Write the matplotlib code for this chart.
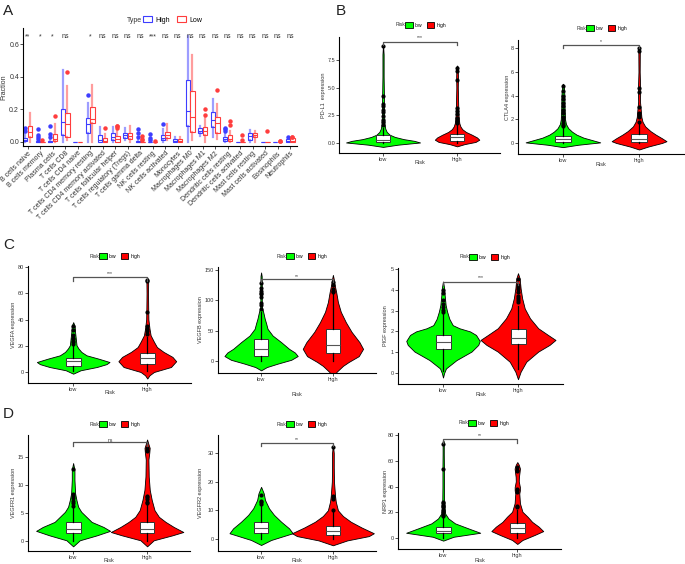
import matplotlib
matplotlib.use('Agg')
import matplotlib.pyplot as plt
from matplotlib.patches import Patch
import numpy as np

plt.rcParams['font.family'] = ['Liberation Sans', 'DejaVu Sans']

# ---------------- Panel A data ----------------
cells = ["B cells naive", "B cells memory", "Plasma cells", "T cells CD8", "T cells CD4 naive",
         "T cells CD4 memory resting", "T cells CD4 memory activated", "T cells follicular helper",
         "T cells regulatory (Tregs)", "T cells gamma delta", "NK cells resting", "NK cells activated",
         "Monocytes", "Macrophages M0", "Macrophages M1", "Macrophages M2", "Dendritic cells resting",
         "Dendritic cells activated", "Mast cells resting", "Mast cells activated", "Eosinophils", "Neutrophils"]
sig_a = ["**", "*", "*", "ns", "", "*", "ns", "ns", "ns", "ns", "***", "ns",
         "ns", "ns", "ns", "ns", "ns", "ns", "ns", "ns", "ns", "ns"]

high_lo = [0, 0, 0, 0, 0, 0, 0, 0, 0.01, 0, 0, 0, 0, 0, 0.035, 0.03, 0, 0, 0, 0, 0, 0]
high_q1 = [0.006, 0, 0, 0.04, 0, 0.053, 0.002, 0.012, 0.022, 0, 0, 0.012, 0.002, 0.098, 0.053, 0.09, 0.006, 0, 0.012, 0, 0, 0.002]
high_med = [0.015, 0, 0.003, 0.12, 0, 0.11, 0.01, 0.03, 0.04, 0, 0, 0.025, 0.008, 0.19, 0.068, 0.133, 0.018, 0, 0.035, 0, 0, 0.005]
high_q3 = [0.027, 0.005, 0.008, 0.205, 0, 0.145, 0.043, 0.057, 0.057, 0.004, 0.002, 0.043, 0.016, 0.38, 0.084, 0.186, 0.033, 0, 0.053, 0, 0, 0.016]
high_hi = [0.05, 0.01, 0.015, 0.44, 0, 0.24, 0.09, 0.09, 0.085, 0.01, 0.005, 0.08, 0.03, 0.65, 0.1, 0.265, 0.05, 0, 0.075, 0, 0.002, 0.02]
high_out = [[0.065, 0.088], [0.02, 0.03, 0.045, 0.08], [0.03, 0.05, 0.095], [], [], [0.29], [], [], [],
            [0.03, 0.055, 0.078], [0.01, 0.025, 0.05], [0.11], [], [], [], [], [0.07, 0.08, 0.085],
            [], [], [], [], [0.032]]

low_lo = [0, 0, 0, 0.01, 0, 0, 0, 0, 0, 0, 0, 0.01, 0, 0.01, 0, 0.02, 0, 0, 0, 0, 0, 0]
low_q1 = [0.033, 0, 0.006, 0.033, 0, 0.114, 0.002, 0.003, 0.016, 0, 0, 0.027, 0.002, 0.063, 0.043, 0.053, 0.006, 0, 0.029, 0, 0, 0]
low_med = [0.063, 0, 0.02, 0.108, 0, 0.14, 0.008, 0.016, 0.035, 0, 0, 0.045, 0.008, 0.155, 0.07, 0.115, 0.02, 0, 0.04, 0, 0, 0.005]
low_q3 = [0.098, 0.003, 0.047, 0.176, 0, 0.216, 0.022, 0.037, 0.057, 0.002, 0.002, 0.063, 0.018, 0.314, 0.094, 0.155, 0.043, 0, 0.057, 0, 0, 0.022]
low_hi = [0.175, 0.006, 0.11, 0.34, 0, 0.35, 0.05, 0.07, 0.1, 0.005, 0.004, 0.11, 0.03, 0.53, 0.15, 0.23, 0.07, 0, 0.07, 0, 0.002, 0.025]
low_out = [[], [0.01], [0.16], [0.43], [], [], [0.085], [0.085, 0.095, 0.1], [], [0.01, 0.02, 0.038],
           [0.008], [], [], [], [0.165, 0.2], [0.32], [0.105, 0.13], [0.01, 0.04], [], [0.068],
           [0.004, 0.006], [0.028, 0.03]]

# ---------------- Violin data (profile y, half-width, box [lo,q1,med,q3,hi], outliers) ----------------
pdl1_low_y = [-0.35, -0.15, 0.05, 0.2, 0.35, 0.55, 0.75, 1.0, 1.3, 1.7, 2.5, 3.5, 4.3, 6.0, 8.0, 8.9]
pdl1_low_w = [0.0, 0.2, 0.5, 0.42, 0.28, 0.16, 0.09, 0.05, 0.03, 0.02, 0.015, 0.014, 0.012, 0.008, 0.008, 0.0]
pdl1_low_box = [0.0, 0.06, 0.3, 0.75, 1.4]
pdl1_low_out = [1.6, 1.9, 2.1, 2.4, 2.8, 3.0, 3.3, 3.5, 4.2, 8.8]
pdl1_high_y = [-0.3, -0.1, 0.1, 0.3, 0.5, 0.75, 1.0, 1.25, 1.5, 1.8, 2.5, 3.5, 5.0, 6.0, 6.9, 7.0]
pdl1_high_w = [0.0, 0.1, 0.25, 0.3, 0.27, 0.2, 0.12, 0.07, 0.045, 0.03, 0.02, 0.015, 0.01, 0.012, 0.008, 0.0]
pdl1_high_box = [0.0, 0.2, 0.5, 0.8, 1.6]
pdl1_high_out = [1.8, 2.0, 2.3, 2.6, 2.9, 3.2, 5.7, 6.5, 6.8]

ctla4_low_y = [-0.35, -0.15, 0.05, 0.25, 0.45, 0.7, 0.95, 1.25, 1.6, 2.0, 3.0, 4.0, 4.9, 5.0]
ctla4_low_w = [0.0, 0.2, 0.49, 0.38, 0.27, 0.18, 0.12, 0.07, 0.04, 0.028, 0.022, 0.02, 0.01, 0.0]
ctla4_low_box = [0.0, 0.05, 0.3, 0.6, 1.35]
ctla4_low_out = [1.4, 1.5, 1.7, 1.9, 2.2, 2.5, 2.8, 3.1, 3.4, 3.7, 4.0, 4.4, 4.8]
ctla4_high_y = [-0.55, -0.3, 0.0, 0.15, 0.4, 0.7, 1.0, 1.4, 1.8, 2.2, 2.6, 3.5, 4.5, 6.0, 7.9, 8.05]
ctla4_high_w = [0.0, 0.12, 0.3, 0.36, 0.3, 0.22, 0.15, 0.08, 0.045, 0.03, 0.025, 0.012, 0.015, 0.008, 0.01, 0.0]
ctla4_high_box = [0.0, 0.05, 0.35, 0.75, 1.6]
ctla4_high_out = [1.8, 2.2, 2.4, 2.5, 3.0, 4.3, 4.6, 7.8, 8.0]

vegfa_low_y = [-1.3, 0, 1.3, 3.8, 6, 7.6, 10.2, 12.7, 15.3, 18, 20.4, 25.5, 30.6, 35, 38]
vegfa_low_w = [0, 0.05, 0.1, 0.32, 0.45, 0.49, 0.34, 0.18, 0.11, 0.07, 0.045, 0.035, 0.025, 0.02, 0]
vegfa_low_box = [0.5, 4.6, 8.0, 10.7, 20]
vegfa_low_out = [21, 23, 24, 25, 26, 28, 32, 35]
vegfa_high_y = [-5, -2.5, 0, 3.8, 8.2, 11.5, 15.3, 19, 23, 28, 33, 40, 50, 60, 70, 72]
vegfa_high_w = [0, 0.03, 0.09, 0.32, 0.39, 0.34, 0.22, 0.13, 0.09, 0.045, 0.03, 0.015, 0.012, 0.01, 0.012, 0]
vegfa_high_box = [0.5, 6.4, 10.5, 14.8, 27]
vegfa_high_out = [29, 31, 33, 35, 46, 69, 70]

vegfb_low_y = [-15.4, -10, -4.4, 2, 8.2, 14, 20, 31, 42, 53, 62, 70, 78, 83, 88, 100, 120, 140, 146]
vegfb_low_w = [0, 0.08, 0.23, 0.42, 0.51, 0.47, 0.39, 0.28, 0.16, 0.09, 0.07, 0.05, 0.035, 0.025, 0.012, 0.01, 0.01, 0.008, 0]
vegfb_low_box = [0, 8, 20, 36, 80]
vegfb_low_out = [85, 92, 95, 105, 110, 112, 115, 120, 128]
vegfb_high_y = [-28, -18, -8, -1.6, 8, 20, 31, 48, 64, 81, 97, 114, 125, 135, 142]
vegfb_high_w = [0, 0.05, 0.14, 0.22, 0.36, 0.42, 0.37, 0.26, 0.18, 0.11, 0.07, 0.045, 0.025, 0.012, 0]
vegfb_high_box = [0, 14, 27, 52, 110]
vegfb_high_out = [114, 115, 118, 125, 130]

plgf_low_y = [-0.22, 0, 0.22, 0.62, 1.03, 1.35, 1.54, 1.83, 2.0, 2.15, 2.3, 2.6, 2.95, 3.27, 3.75, 4.1, 4.4]
plgf_low_w = [0, 0.015, 0.04, 0.18, 0.38, 0.47, 0.49, 0.44, 0.36, 0.22, 0.13, 0.085, 0.055, 0.035, 0.022, 0.015, 0]
plgf_low_box = [0.1, 1.14, 1.47, 1.83, 2.85]
plgf_low_out = [2.95, 3.05, 3.15, 3.3, 3.5, 3.85, 4.0]
plgf_high_y = [-0.3, 0.06, 0.54, 1.03, 1.35, 1.59, 1.83, 2.15, 2.63, 3.1, 3.6, 4.07, 4.55, 4.8]
plgf_high_w = [0, 0.035, 0.11, 0.27, 0.42, 0.5, 0.4, 0.27, 0.16, 0.09, 0.055, 0.035, 0.022, 0]
plgf_high_box = [0.2, 1.38, 1.7, 2.1, 3.2]
plgf_high_out = [3.4, 3.5, 3.6, 3.7, 3.9, 4.05, 4.15, 4.25, 4.5]

vegfr1_low_y = [-0.96, 0.12, 1.0, 1.8, 2.5, 3.4, 4.3, 5.2, 6.1, 7.3, 8.5, 10.9, 12.7, 13.9]
vegfr1_low_w = [0, 0.09, 0.32, 0.5, 0.41, 0.25, 0.18, 0.11, 0.068, 0.045, 0.027, 0.018, 0.018, 0]
vegfr1_low_box = [0, 1.5, 2.2, 3.3, 6]
vegfr1_low_out = [6.3, 6.8, 7.2, 7.6, 8.0, 8.3, 12.8]
vegfr1_high_y = [-0.96, 0.12, 1.0, 1.6, 2.5, 3.4, 4.3, 5.5, 7.3, 9.1, 11.5, 14.5, 15.8, 16.6, 17.2, 18.1]
vegfr1_high_w = [0, 0.09, 0.34, 0.49, 0.36, 0.25, 0.16, 0.1, 0.063, 0.036, 0.022, 0.018, 0.03, 0.035, 0.02, 0]
vegfr1_high_box = [0, 1.5, 2.2, 3.3, 6.5]
vegfr1_high_out = [6.8, 7.0, 7.5, 7.8, 8.0, 16.0, 16.3, 16.6]

vegfr2_low_y = [-2.1, -0.35, 2.0, 3.7, 6.0, 8.4, 10.7, 13.6, 15.9, 18.2]
vegfr2_low_w = [0, 0.14, 0.44, 0.39, 0.28, 0.18, 0.11, 0.055, 0.037, 0]
vegfr2_low_box = [0, 2.0, 4.0, 5.8, 11.5]
vegfr2_low_out = [12.3, 12.8, 13.2, 15.5]
vegfr2_high_y = [-2.2, -0.5, 1.0, 2.0, 4.0, 6.0, 8.0, 10.0, 13.0, 15.0, 20, 25, 30, 33]
vegfr2_high_w = [0, 0.2, 0.5, 0.57, 0.4, 0.25, 0.14, 0.07, 0.04, 0.03, 0.015, 0.012, 0.012, 0]
vegfr2_high_box = [0, 1.4, 2.7, 4.5, 9.5]
vegfr2_high_out = [10.0, 14.0, 14.6, 15.0, 32]

nrp1_low_y = [-2, 1, 4.1, 7.5, 11.4, 15.2, 19, 24, 30, 40, 55, 65, 75, 76]
nrp1_low_w = [0, 0.14, 0.5, 0.34, 0.16, 0.07, 0.027, 0.018, 0.012, 0.01, 0.01, 0.008, 0.008, 0]
nrp1_low_box = [0, 3.6, 5.7, 8.3, 15.5]
nrp1_low_out = [17, 18, 20, 22, 24, 25, 26, 27, 28, 54, 73]
nrp1_high_y = [-4.6, -1.5, 2.3, 5.4, 8.8, 12.6, 16.5, 20.4, 27, 34.6, 37, 39.7, 44, 47.5, 51, 54, 57, 59]
nrp1_high_w = [0, 0.07, 0.23, 0.35, 0.29, 0.2, 0.14, 0.07, 0.036, 0.027, 0.035, 0.035, 0.02, 0.022, 0.03, 0.036, 0.02, 0]
nrp1_high_box = [0, 4.1, 7.5, 11.4, 22]
nrp1_high_out = [24, 25, 36, 37, 38, 52, 53, 55]

groups = ["low", "high"]

# ---------------- Figure ----------------
W, H = 685, 564
fig = plt.figure(figsize=(W / 100, H / 100), dpi=100)

BLUE = '#3D3DFF'
RED_A = '#FF3D3D'
GREEN = '#00FF00'
RED = '#FF0000'
TXT = '#333333'


def add_ax(l, t, r, b):
    return fig.add_axes([l / W, 1 - b / H, (r - l) / W, (b - t) / H])


def style_axes(ax, fs):
    for s in ['top', 'right']:
        ax.spines[s].set_visible(False)
    for s in ['left', 'bottom']:
        ax.spines[s].set_linewidth(0.8)
        ax.spines[s].set_color('black')
    ax.tick_params(length=2, width=0.6, pad=0.8, labelsize=fs, colors=TXT)
    ax.tick_params(axis='both', color='#333333')
    ax.patch.set_alpha(0)


def box_stats(lo, q1, med, q3, hi, out):
    return dict(whislo=lo, q1=q1, med=med, q3=q3, whishi=hi, fliers=out)


# ---------------- Panel A ----------------
axA = add_ax(23, 27.7, 297, 146)
posA = np.arange(1, len(cells) + 1)
statsH = [box_stats(*v) for v in zip(high_lo, high_q1, high_med, high_q3, high_hi, high_out)]
statsL = [box_stats(*v) for v in zip(low_lo, low_q1, low_med, low_q3, low_hi, low_out)]
for stats, off, col in [(statsH, -0.19, BLUE), (statsL, 0.19, RED_A)]:
    axA.bxp(stats, positions=posA + off, widths=0.34, showcaps=False, patch_artist=True,
            manage_ticks=False,
            boxprops=dict(facecolor='white', edgecolor=col, linewidth=0.8),
            whiskerprops=dict(color=col, alpha=0.5, linewidth=1.6),
            medianprops=dict(color=col, linewidth=0.8),
            flierprops=dict(marker='o', markerfacecolor=col, markeredgecolor=col,
                            markersize=2.2, linestyle='none'))
axA.set_xlim(0.64, 22.56)
axA.set_ylim(-0.0245, 0.70)
axA.set_yticks([0, 0.2, 0.4, 0.6])
axA.set_yticklabels(['0.0', '0.2', '0.4', '0.6'])
axA.set_xticks(posA)
axA.set_xticklabels(cells, rotation=45, ha='right', va='top', rotation_mode='anchor')
style_axes(axA, 5)
axA.set_ylabel('Fraction', fontsize=5, color=TXT)
axA.yaxis.set_label_coords((7.5 - 23) / 274, 0.5)
for i, s in zip(posA, sig_a):
    axA.text(i, 0.645, s, ha='center', va='center', fontsize=5, color=TXT)

fig.text(127 / W, 1 - 20 / H, 'Type', fontsize=5, va='center', ha='left', color=TXT)
fig.legend(handles=[Patch(facecolor='white', edgecolor=BLUE, linewidth=0.8),
                    Patch(facecolor='white', edgecolor=RED_A, linewidth=0.8)],
           labels=['High', 'Low'], loc='center left', bbox_to_anchor=(143 / W, 1 - 20 / H),
           ncol=2, frameon=False, fontsize=5, handlelength=1.3, handleheight=0.8,
           handletextpad=0.5, columnspacing=1.0, borderpad=0, borderaxespad=0)

# ---------------- Violin panels ----------------

def violin_panel(rect, xlim, ylim, yticks, yticklabels, ylabel, ylabel_px, xlabel_px,
                 low, high, sig, bracket_y, sig_y, legend_px):
    l, t, r, b = rect
    ax = add_ax(l, t, r, b)
    for pos, prof, color in [(1, low, GREEN), (2, high, RED)]:
        y, w, box, out = prof
        y = np.asarray(y, float)
        w = np.asarray(w, float)
        ax.fill_betweenx(y, pos - w, pos + w, facecolor=color, edgecolor='black',
                         linewidth=0.6, zorder=1)
        ax.bxp([box_stats(*box, out)], positions=[pos], widths=0.2, showcaps=False,
               patch_artist=True, manage_ticks=False,
               boxprops=dict(facecolor='white', edgecolor='#333333', linewidth=0.7),
               whiskerprops=dict(color='black', linewidth=0.9),
               medianprops=dict(color='#555555', linewidth=0.8),
               flierprops=dict(marker='o', markerfacecolor='black', markeredgecolor='black',
                               markersize=2, linestyle='none'))
    ax.set_xlim(*xlim)
    ax.set_ylim(*ylim)
    ax.set_yticks(yticks)
    ax.set_yticklabels(yticklabels)
    ax.set_xticks([1, 2])
    ax.set_xticklabels(groups)
    style_axes(ax, 4)
    ax.set_ylabel(ylabel, fontsize=4, color=TXT)
    ax.yaxis.set_label_coords((ylabel_px + 0.5 - l) / (r - l), 0.5)
    ax.set_xlabel('Risk', fontsize=4, color=TXT)
    ax.xaxis.set_label_coords(0.5, (b - xlabel_px + 2.5) / (b - t))
    tip = 0.03 * (ylim[1] - ylim[0])
    ax.plot([1, 1, 2, 2], [bracket_y - tip, bracket_y, bracket_y, bracket_y - tip],
            color='#555555', linewidth=0.9, zorder=3)
    ax.text(1.5, sig_y, sig, ha='center', va='center', fontsize=3.6, color=TXT)
    lx, ly = legend_px
    fig.text(lx / W, 1 - ly / H, 'Risk', fontsize=3.6, va='center', ha='left', color=TXT)
    fig.legend(handles=[Patch(facecolor=GREEN, edgecolor='black', linewidth=0.6),
                        Patch(facecolor=RED, edgecolor='black', linewidth=0.6)],
               labels=groups, loc='center left', bbox_to_anchor=((lx + 9) / W, 1 - ly / H),
               ncol=2, frameon=False, fontsize=3.6, handlelength=1.5, handleheight=1.5,
               handletextpad=0.5, columnspacing=0.8, borderpad=0, borderaxespad=0)
    return ax


violin_panel((339, 37, 500, 153), (0.405, 2.58), (-0.90, 9.57), [0, 2.5, 5.0, 7.5],
             ['0.0', '2.5', '5.0', '7.5'], 'PD-L1  expression', 325, 163,
             (pdl1_low_y, pdl1_low_w, pdl1_low_box, pdl1_low_out),
             (pdl1_high_y, pdl1_high_w, pdl1_high_box, pdl1_high_out),
             '***', 9.12, 9.5, (396, 25))

violin_panel((518, 40, 684, 154), (0.41, 2.59), (-0.93, 8.69), [0, 2, 4, 6, 8],
             ['0', '2', '4', '6', '8'], 'CTLA4 expression', 510, 164,
             (ctla4_low_y, ctla4_low_w, ctla4_low_box, ctla4_low_out),
             (ctla4_high_y, ctla4_high_w, ctla4_high_box, ctla4_high_out),
             '*', 8.27, 8.6, (577, 28))

violin_panel((28, 266, 191, 383), (0.39, 2.59), (-8.4, 80.8), [0, 20, 40, 60, 80],
             ['0', '20', '40', '60', '80'], 'VEGFA expression', 16, 393,
             (vegfa_low_y, vegfa_low_w, vegfa_low_box, vegfa_low_out),
             (vegfa_high_y, vegfa_high_w, vegfa_high_box, vegfa_high_out),
             '***', 72.4, 75.4, (90, 256))

violin_panel((218, 267, 376, 373), (0.40, 2.60), (-19.8, 155), [0, 50, 100, 150],
             ['0', '50', '100', '150'], 'VEGFB expression', 202, 394,
             (vegfb_low_y, vegfb_low_w, vegfb_low_box, vegfb_low_out),
             (vegfb_high_y, vegfb_high_w, vegfb_high_box, vegfb_high_out),
             '**', 135, 140, (277, 256))

violin_panel((398, 268, 563, 384), (0.40, 2.60), (-0.53, 5.05), [0, 1, 2, 3, 4, 5],
             ['0', '1', '2', '3', '4', '5'], 'PlGF expression', 388, 394,
             (plgf_low_y, plgf_low_w, plgf_low_box, plgf_low_out),
             (plgf_high_y, plgf_high_w, plgf_high_box, plgf_high_out),
             '***', 4.38, 4.57, (460, 257))

violin_panel((28, 435, 190, 551), (0.39, 2.58), (-1.79, 18.9), [0, 5, 10, 15],
             ['0', '5', '10', '15'], 'VEGFR1 expression', 16, 561,
             (vegfr1_low_y, vegfr1_low_w, vegfr1_low_box, vegfr1_low_out),
             (vegfr1_high_y, vegfr1_high_w, vegfr1_high_box, vegfr1_high_out),
             'ns', 17.6, 17.95, (90, 424))

violin_panel((218, 435, 376, 551), (0.40, 2.60), (-4.2, 36.3), [0, 10, 20, 30],
             ['0', '10', '20', '30'], 'VEGFR2 expression', 202, 561,
             (vegfr2_low_y, vegfr2_low_w, vegfr2_low_box, vegfr2_low_out),
             (vegfr2_high_y, vegfr2_high_w, vegfr2_high_box, vegfr2_high_out),
             '**', 33.6, 34.6, (277, 424))

violin_panel((398, 433, 561, 549), (0.39, 2.59), (-8.5, 81.6), [0, 20, 40, 60, 80],
             ['0', '20', '40', '60', '80'], 'NRP1 expression', 387, 560,
             (nrp1_low_y, nrp1_low_w, nrp1_low_box, nrp1_low_out),
             (nrp1_high_y, nrp1_high_w, nrp1_high_box, nrp1_high_out),
             '**', 76.7, 79.3, (459, 423))

# Panel letters
for letter, x, y in [('A', 3, 11), ('B', 336, 11), ('C', 3, 245), ('D', 3, 414)]:
    fig.text(x / W, 1 - y / H, letter, fontsize=11, va='center', ha='left', color='#222222')

fig.savefig('out.png', dpi=100)
